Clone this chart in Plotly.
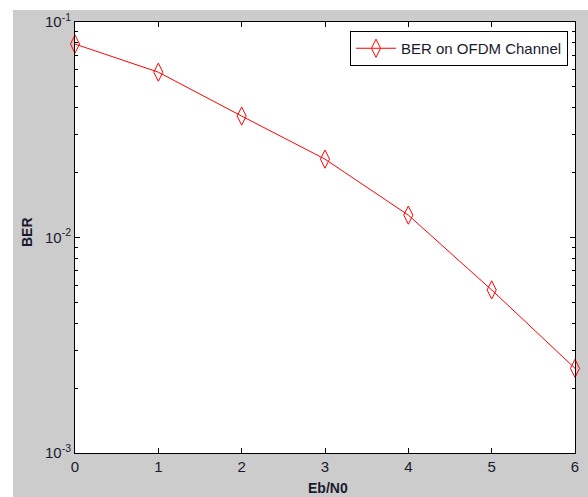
import plotly.graph_objects as go

ebn0 = [0, 1, 2, 3, 4, 5, 6]
ber = [0.079, 0.0585, 0.0366, 0.0231, 0.0127, 0.00571, 0.00247]
ytick_vals = [0.001, 0.01, 0.1]
ytick_text = ["10<sup>-3</sup>", "10<sup>-2</sup>", "10<sup>-1</sup>"]
yminor_vals = [m * d for d in (0.001, 0.01) for m in range(2, 10)]
xtick_vals = [0, 1, 2, 3, 4, 5, 6]

W, H = 588, 497
L, R, T, B = 75, 13, 22, 44
pw, ph = W - L - R, H - T - B

fig = go.Figure()
fig.add_trace(go.Scatter(
    x=ebn0, y=ber, mode="lines+markers", name="BER on OFDM Channel",
    line=dict(color="#ff0000", width=1),
    marker=dict(symbol="diamond-tall-open", size=13, color="#ff0000",
                line=dict(color="#ff0000", width=1)),
    cliponaxis=False,
))
# invisible trace on overlay axis carrying minor ticks
fig.add_trace(go.Scatter(x=[None], y=[None], yaxis="y2", showlegend=False, hoverinfo="skip"))

FAM = "Liberation Sans, Arial, sans-serif"
TXT = "#1a1a2e"
font = dict(family=FAM, size=15, color=TXT)

fig.update_layout(
    width=W, height=H,
    margin=dict(l=L, r=R, t=T, b=B, autoexpand=False),
    paper_bgcolor="#cccccc",
    plot_bgcolor="white",
    font=font,
    showlegend=True,
    legend=dict(x=(568 - L) / pw, y=(H - B - 31) / ph, xanchor="right", yanchor="top",
                bgcolor="white", bordercolor="black", borderwidth=1,
                font=dict(family=FAM, size=15, color=TXT),
                itemwidth=40, tracegroupgap=0),
    xaxis=dict(range=[0, 6], tickvals=xtick_vals, ticks="inside", ticklen=5,
               tickcolor="black", showline=True, linecolor="black", linewidth=1,
               mirror="ticks", showgrid=False, zeroline=False, automargin=False,
               tickfont=dict(size=15)),
    yaxis=dict(type="log", range=[-3, -1], tickvals=ytick_vals, ticktext=ytick_text,
               ticks="inside", ticklen=5, tickcolor="black",
               showline=True, linecolor="black", linewidth=1, mirror="ticks",
               showgrid=False, zeroline=False, automargin=False,
               tickfont=dict(size=15)),
    yaxis2=dict(type="log", range=[-3, -1], overlaying="y", side="left",
                tickvals=yminor_vals, showticklabels=False,
                ticks="inside", ticklen=3, tickcolor="black",
                showline=True, linecolor="black", linewidth=1, mirror="ticks",
                showgrid=False, zeroline=False, automargin=False),
    annotations=[
        dict(text="<b>Eb/N0</b>", xref="paper", yref="paper",
             x=(328 - L) / pw, y=(H - B - 488) / ph, showarrow=False,
             xanchor="center", yanchor="middle",
             font=dict(family=FAM, size=14, color=TXT)),
        dict(text="<b>BER</b>", xref="paper", yref="paper", textangle=-90,
             x=(27 - L) / pw, y=(H - B - 232) / ph, showarrow=False,
             xanchor="center", yanchor="middle",
             font=dict(family=FAM, size=14, color=TXT)),
    ],
)

# white outer margins (left and top strips)
fig.add_shape(type="rect", xref="paper", yref="paper",
              x0=-L / pw - 0.01, x1=(13 - L) / pw, y0=-B / ph - 0.01, y1=1 + T / ph + 0.01,
              fillcolor="white", line=dict(width=0), layer="above")
fig.add_shape(type="rect", xref="paper", yref="paper",
              x0=-L / pw - 0.01, x1=1 + R / pw + 0.01, y0=1 + (T - 10) / ph, y1=1 + T / ph + 0.01,
              fillcolor="white", line=dict(width=0), layer="above")

fig.write_html("out.html", config={"displayModeBar": False},
               post_script="document.body.style.margin='0';document.body.style.padding='0';")
